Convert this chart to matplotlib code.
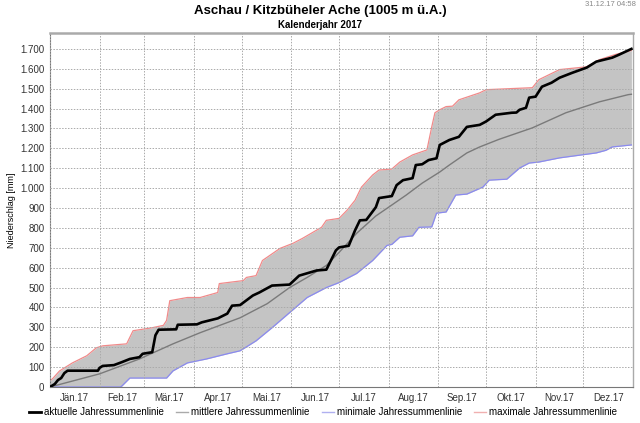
import numpy as np
import matplotlib
matplotlib.use("Agg")
import matplotlib.pyplot as plt
from matplotlib.ticker import FuncFormatter

plt.rcParams['font.family'] = ['Liberation Sans', 'DejaVu Sans']

# day of year (0 = 1. Jänner) and cumulative precipitation in mm
akt_day = [0, 3, 5, 7, 9, 11, 30, 31, 33, 40, 45, 50, 56, 58, 64, 66, 68, 79, 80, 92, 95, 100,
           105, 111, 114, 119, 127, 131, 139, 150, 156, 167, 173, 179, 181, 187, 191, 194, 198,
           204, 206, 214, 217, 221, 227, 229, 233, 237, 242, 244, 250, 256, 261, 269, 273, 279,
           289, 292, 294, 298, 300, 304, 308, 314, 319, 327, 336, 342, 352, 356, 364]
akt_val = [0, 15, 35, 45, 70, 82, 82, 96, 106, 110, 125, 141, 150, 167, 175, 260, 288, 290, 313,
           315, 325, 335, 345, 369, 409, 412, 460, 475, 510, 515, 560, 586, 590, 687, 702, 710,
           788, 838, 840, 904, 950, 960, 1015, 1040, 1050, 1116, 1120, 1141, 1150, 1217, 1242,
           1258, 1308, 1318, 1335, 1369, 1379, 1380, 1394, 1404, 1455, 1460, 1510, 1530, 1555,
           1580, 1606, 1636, 1656, 1670, 1700]

mit_day = [0, 31, 56, 77, 94, 119, 136, 150, 161, 173, 181, 192, 204, 212, 223, 233, 244, 250,
           261, 269, 281, 302, 323, 344, 362, 364]
mit_val = [0, 66, 141, 217, 273, 348, 419, 500, 551, 611, 677, 773, 860, 904, 965, 1025, 1081,
           1116, 1177, 1207, 1245, 1303, 1379, 1434, 1470, 1472]

min_day = [0, 44, 45, 50, 73, 77, 86, 98, 111, 119, 129, 139, 150, 161, 173, 181, 192, 202, 211,
           214, 219, 227, 231, 239, 242, 248, 254, 261, 271, 275, 286, 294, 300, 306, 319, 342,
           348, 352, 364]
min_val = [0, 0, 5, 45, 45, 81, 121, 141, 167, 182, 232, 298, 374, 450, 500, 525, 571, 636, 712,
           717, 753, 760, 803, 805, 874, 880, 965, 970, 1005, 1040, 1045, 1101, 1126, 1131, 1152,
           1177, 1190, 1207, 1217]

max_day = [0, 2, 6, 14, 23, 29, 33, 48, 52, 64, 71, 73, 75, 86, 94, 105, 106, 121, 123, 129,
           133, 144, 152, 158, 170, 173, 181, 186, 191, 195, 202, 206, 214, 219, 227, 236, 239,
           241, 244, 248, 252, 256, 269, 273, 302, 306, 319, 336, 344, 354, 364]
max_val = [30, 45, 81, 121, 157, 197, 207, 217, 283, 298, 310, 335, 434, 450, 450, 475, 520, 535,
           551, 560, 636, 697, 722, 747, 803, 838, 848, 889, 939, 1005, 1066, 1091, 1096, 1131,
           1167, 1192, 1308, 1379, 1394, 1410, 1412, 1444, 1479, 1495, 1505, 1545, 1596, 1610,
           1646, 1672, 1692]

monat_start = [0, 31, 59, 90, 120, 151, 181, 212, 243, 273, 304, 334, 365]
monat_label = ['Jän.17', 'Feb.17', 'Mär.17', 'Apr.17', 'Mai.17', 'Jun.17', 'Jul.17',
               'Aug.17', 'Sep.17', 'Okt.17', 'Nov.17', 'Dez.17']

fig = plt.figure(figsize=(6.4, 4.23), dpi=100)
ax = fig.add_axes([50 / 640, 1 - 387 / 423, 583 / 640, 354 / 423])

# band between minimum and maximum
tage = np.arange(0, 365)
lo = np.interp(tage, min_day, min_val)
hi = np.interp(tage, max_day, max_val)
ax.fill_between(tage, lo, hi, color='#c4c4c4', lw=0, zorder=1)

ax.plot(max_day, max_val, color='#f08a8a', lw=0.9, zorder=2)
ax.plot(min_day, min_val, color='#8a8af0', lw=0.9, zorder=2)
ax.plot(mit_day, mit_val, color='#7a7a7a', lw=1.0, zorder=3)
ax.plot(akt_day, akt_val, color='black', lw=1.9, zorder=4)

ax.set_xlim(0, 365)
ax.set_ylim(0, 1780)
ax.set_xticks(monat_start)
ax.set_xticklabels([])
mitte = [(monat_start[i] + monat_start[i + 1]) / 2 for i in range(12)]
ax.set_xticks(mitte, minor=True)
ax.set_xticklabels(monat_label, minor=True, fontsize=7, color='#333333')
ax.set_yticks(np.arange(0, 1701, 100))
ax.yaxis.set_major_formatter(FuncFormatter(lambda v, p: '{:,.0f}'.format(v).replace(',', '.')))
ax.tick_params(axis='both', which='both', length=0, labelsize=7, colors='#333333', pad=4)
ax.grid(True, which='major', color='#aaaaaa', ls=(0, (1.5, 1.5)), lw=0.7)
ax.set_axisbelow(False)
for g in ax.get_xgridlines() + ax.get_ygridlines():
    g.set_zorder(1.5)

for s in ['top', 'right']:
    ax.spines[s].set_color('#aaaaaa')
ax.spines['top'].set_linewidth(1.8)
ax.spines['right'].set_linewidth(1.0)
ax.spines['left'].set_color('#777777')
ax.spines['bottom'].set_color('#777777')

ax.set_ylabel('Niederschlag [mm]', fontsize=6.5, labelpad=3)

fig.text(0.5, 1 - 11 / 423, 'Aschau / Kitzbüheler Ache (1005 m ü.A.)', ha='center', va='center',
         fontsize=9.5, fontweight='bold')
fig.text(0.5, 1 - 25 / 423, 'Kalenderjahr 2017', ha='center', va='center', fontsize=7,
         fontweight='bold')
fig.text(636 / 640, 1 - 5 / 423, '31.12.17 04:58', ha='right', va='center', fontsize=5.5,
         color='#888888')

handles = [plt.Line2D([], [], color='black', lw=2.0),
           plt.Line2D([], [], color='#aaaaaa', lw=1.0),
           plt.Line2D([], [], color='#b0b0f0', lw=1.0),
           plt.Line2D([], [], color='#f0b0b0', lw=1.0)]
labels = ['aktuelle Jahressummenlinie', 'mittlere Jahressummenlinie',
          'minimale Jahressummenlinie', 'maximale Jahressummenlinie']
fig.legend(handles, labels, loc='center', bbox_to_anchor=(0.505, 1 - 412 / 423), ncol=4,
           frameon=False, fontsize=7, handlelength=1.2, handletextpad=0.3, columnspacing=1.3)

fig.savefig('out.png', dpi=100)
